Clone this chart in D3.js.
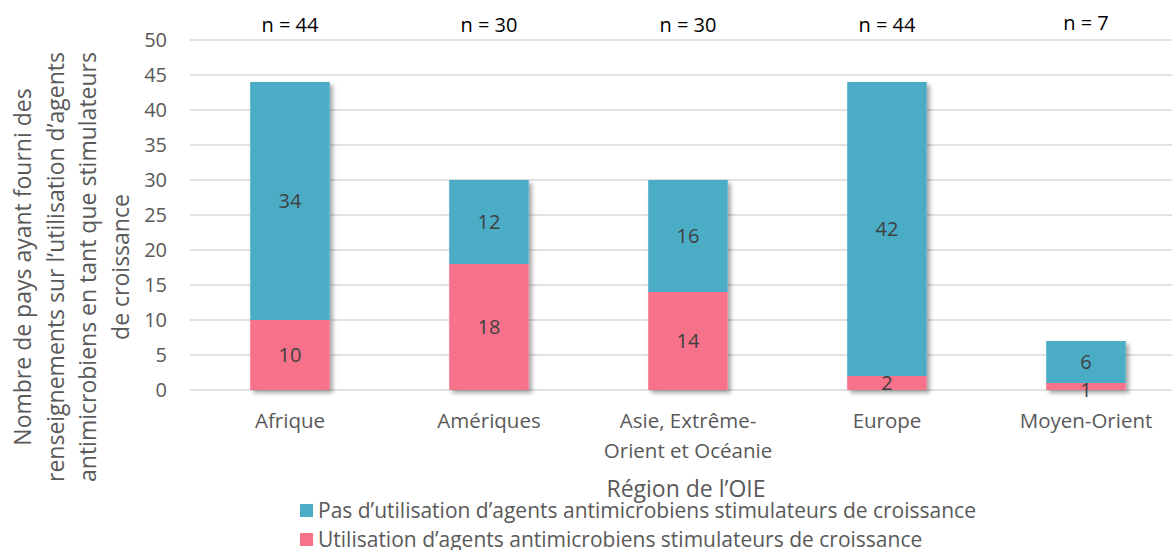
<!DOCTYPE html>
<html>
<head>
<meta charset="utf-8">
<script src="https://cdn.jsdelivr.net/npm/d3@7"></script>
<style>
  body { margin: 0; background: #fff; }
  text { font-family: "Open Sans", sans-serif; fill: #595959; }
</style>
</head>
<body>
<svg id="chart"></svg>
<script>
// data
const regions = ["Afrique", "Amériques", "Asie, Extrême-\nOrient et Océanie", "Europe", "Moyen-Orient"];
const used = [10, 18, 14, 2, 1];
const notUsed = [34, 12, 16, 42, 6];
const totals = [44, 30, 30, 44, 7];
const yTicks = [0, 5, 10, 15, 20, 25, 30, 35, 40, 45, 50];
const seriesNames = [
  "Pas d\u2019utilisation d\u2019agents antimicrobiens stimulateurs de croissance",
  "Utilisation d\u2019agents antimicrobiens stimulateurs de croissance"
];
const colors = ["#4bacc6", "#f5728a"];

const width = 1172;
const height = 550;

const svg = d3.select("#chart").attr("width", width).attr("height", height);

const defs = svg.append("defs");
const shadow = defs.append("filter").attr("id", "shadow")
  .attr("x", "-10%").attr("y", "-10%").attr("width", "130%").attr("height", "130%");
shadow.append("feDropShadow").attr("dx", 3).attr("dy", 3).attr("stdDeviation", 2)
  .attr("flood-color", "#000").attr("flood-opacity", 0.35);

const x = d3.scaleBand().domain(regions).range([190.5, 1185.5])
  .paddingInner(0.6).paddingOuter(0.3);
const y = d3.scaleLinear().domain([0, 50]).range([390, 40]);

// gridlines
svg.append("g").selectAll("line").data(yTicks).join("line")
  .attr("x1", 190).attr("x2", width)
  .attr("y1", d => y(d)).attr("y2", d => y(d))
  .attr("stroke", "#d9d9d9").attr("stroke-width", 1.5);

// y tick labels
svg.append("g").selectAll("text").data(yTicks).join("text")
  .attr("x", 167).attr("y", d => y(d)).attr("dy", "0.35em")
  .attr("text-anchor", "end").style("font-size", "20px")
  .text(d => d);

const stackData = regions.map((r, i) => ({ region: r, used: used[i], notUsed: notUsed[i] }));
const stack = d3.stack().keys(["used", "notUsed"])(stackData);

const bars = svg.append("g");
// shadow column per bar
bars.selectAll("rect.sh").data(stackData).join("rect")
  .attr("class", "sh")
  .attr("x", d => x(d.region))
  .attr("y", d => y(d.used + d.notUsed))
  .attr("width", x.bandwidth())
  .attr("height", d => y(0) - y(d.used + d.notUsed))
  .attr("fill", "#fff")
  .attr("filter", "url(#shadow)");

stack.forEach((layer, li) => {
  bars.append("g").selectAll("rect").data(layer).join("rect")
    .attr("x", d => x(d.data.region))
    .attr("y", d => y(d[1]))
    .attr("width", x.bandwidth())
    .attr("height", d => y(d[0]) - y(d[1]))
    .attr("fill", li === 0 ? colors[1] : colors[0]);
});

stack.forEach((layer) => {
  bars.append("g").selectAll("text").data(layer).join("text")
    .attr("x", d => x(d.data.region) + x.bandwidth() / 2)
    .attr("y", d => {
      const mid = (y(d[0]) + y(d[1])) / 2;
      return (y(d[0]) - y(d[1])) < 14 ? mid + 3 : mid;
    })
    .attr("dy", "0.35em")
    .attr("text-anchor", "middle")
    .style("font-size", "20px").style("fill", "#404040")
    .text(d => d[1] - d[0]);
});

// n labels
svg.append("g").selectAll("text").data(regions).join("text")
  .attr("x", d => x(d) + x.bandwidth() / 2)
  .attr("y", (d, i) => i === 4 ? 30 : 32)
  .attr("text-anchor", "middle").style("font-size", "20px").style("fill", "#000")
  .text((d, i) => "n = " + totals[i]);

// x labels
const xl = svg.append("g").selectAll("text").data(regions).join("text")
  .attr("text-anchor", "middle").style("font-size", "20.5px")
  .attr("transform", d => `translate(${x(d) + x.bandwidth() / 2},428)`);
xl.selectAll("tspan").data(d => d.split("\n")).join("tspan")
  .attr("x", 0).attr("dy", (d, i) => i === 0 ? 0 : 30)
  .text(d => d);

// x title
svg.append("text").attr("x", 686).attr("y", 497)
  .attr("text-anchor", "middle").style("font-size", "23px")
  .text("Région de l\u2019OIE");

// y title
const yTitle = [
  "Nombre de pays ayant fourni des",
  "renseignements sur l\u2019utilisation d\u2019agents",
  "antimicrobiens en tant que stimulateurs",
  "de croissance"
];
svg.append("text")
  .attr("transform", "translate(31,267) rotate(-90)")
  .attr("text-anchor", "middle").style("font-size", "23px")
  .selectAll("tspan").data(yTitle).join("tspan")
  .attr("x", 0).attr("dy", (d, i) => i === 0 ? 0 : 32.5)
  .text(d => d);

// legend
const legend = svg.append("g").selectAll("g").data(seriesNames).join("g")
  .attr("transform", (d, i) => `translate(300,${511 + i * 29})`);
legend.append("rect").attr("x", 0).attr("y", -7).attr("width", 13).attr("height", 13)
  .attr("fill", (d, i) => colors[i]);
legend.append("text").attr("x", 18).attr("dy", "0.35em").style("font-size", "21px")
  .text(d => d);
</script>
</body>
</html>
